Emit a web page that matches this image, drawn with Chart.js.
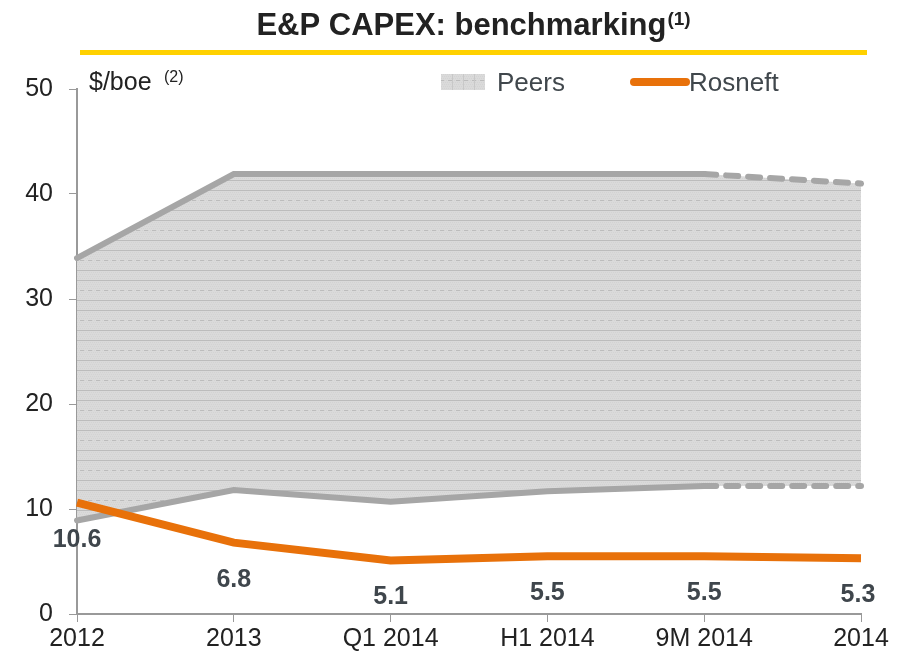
<!DOCTYPE html>
<html>
<head>
<meta charset="utf-8">
<script src="https://cdn.jsdelivr.net/npm/chart.js@4.4.1/dist/chart.umd.min.js"></script>
<style>
  html, body { margin: 0; padding: 0; background: #fff; }
  #wrap { width: 903px; height: 660px; position: relative; }
</style>
</head>
<body>
<div id="wrap"><canvas id="capex" width="903" height="660"></canvas></div>
<script>
const periods = ['2012', '2013', 'Q1 2014', 'H1 2014', '9M 2014', '2014'];
const peersHigh = [33.9, 41.9, 41.9, 41.9, 41.9, 41.0];
const peersLow = [8.9, 11.8, 10.7, 11.7, 12.2, 12.2];
const rosneft = [10.6, 6.8, 5.1, 5.5, 5.5, 5.3];
const rosneftLabels = ['10.6', '6.8', '5.1', '5.5', '5.5', '5.3'];

const FONT = '"Liberation Sans", Arial, sans-serif';
const GREY = '#a6a6a6';
const ORANGE = '#e8710a';

// hatched grey fill for the peers range
function makeHatch() {
    let c = document.createElement('canvas');
    c.width = 8;
    c.height = 30;
    let g = c.getContext('2d');
    g.fillStyle = '#dadada';
    g.fillRect(0, 0, 8, 30);
    g.fillStyle = '#d3d3d3';
    for (let y = 0; y < 30; y += 2) {
        for (let x = (y / 2) % 2; x < 8; x += 2) g.fillRect(x, y, 1, 1);
    }
    g.fillStyle = '#bcbcbc';
    g.fillRect(0, 0, 8, 1);
    g.fillRect(0, 10, 8, 1);
    g.fillRect(0, 20, 4, 1);
    return g.createPattern(c, 'repeat');
}
const hatch = makeHatch();

const decorations = {
    id: 'decorations',
    afterDraw(chart) {
        const ctx = chart.ctx;
        ctx.save();
        // title
        ctx.fillStyle = '#222';
        ctx.textBaseline = 'alphabetic';
        const t = 'E&P CAPEX: benchmarking';
        ctx.font = 'bold 31px ' + FONT;
        const tw = ctx.measureText(t).width;
        ctx.font = 'bold 19px ' + FONT;
        const sw = ctx.measureText('(1)').width;
        const tx = 473 - (tw + sw) / 2;
        ctx.font = 'bold 31px ' + FONT;
        ctx.textAlign = 'left';
        ctx.fillText(t, tx, 35);
        ctx.font = 'bold 19px ' + FONT;
        ctx.fillText('(1)', tx + tw + 1, 25);

        // yellow rule
        ctx.fillStyle = '#ffd100';
        ctx.fillRect(80, 50, 787, 5);

        // unit
        ctx.fillStyle = '#222';
        ctx.font = '25px ' + FONT;
        ctx.fillText('$/boe', 89, 90);
        ctx.font = '16px ' + FONT;
        ctx.fillText('(2)', 164, 82);

        // legend
        ctx.fillStyle = hatch;
        ctx.fillRect(441, 74, 44, 16);
        ctx.strokeStyle = '#c8c8c8';
        ctx.lineWidth = 1;
        for (let x = 452.5; x < 485; x += 11) {
            ctx.beginPath(); ctx.moveTo(x, 74); ctx.lineTo(x, 90); ctx.stroke();
        }
        ctx.fillStyle = '#40474c';
        ctx.font = '26px ' + FONT;
        ctx.fillText('Peers', 497, 91);
        ctx.strokeStyle = ORANGE;
        ctx.lineWidth = 8;
        ctx.lineCap = 'round';
        ctx.beginPath(); ctx.moveTo(634, 82); ctx.lineTo(686, 82); ctx.stroke();
        ctx.fillText('Rosneft', 689, 91);

        // value labels under the Rosneft line
        const meta = chart.getDatasetMeta(4);
        ctx.font = 'bold 25px ' + FONT;
        ctx.fillStyle = '#3f464c';
        ctx.textAlign = 'center';
        meta.data.forEach((pt, i) => {
            let x = pt.x;
            if (i === periods.length - 1) x -= 3;
            ctx.fillText(rosneftLabels[i], x, pt.y + 44);
        });
        ctx.restore();
    }
};

const dashLast = ctx => ctx.p0DataIndex === periods.length - 2 ? [12, 10] : undefined;

let chart = new Chart(document.getElementById('capex').getContext('2d'), {
    type: 'line',
    data: {
        labels: periods,
        datasets: [
            // band fill only (no border so no segment seams)
            {
                label: 'Peers band',
                data: peersHigh,
                borderWidth: 0,
                borderColor: 'rgba(0,0,0,0)',
                backgroundColor: hatch,
                fill: '+1',
                pointRadius: 0,
                tension: 0,
                order: 5
            },
            {
                label: 'Peers band low',
                data: peersLow,
                borderWidth: 0,
                borderColor: 'rgba(0,0,0,0)',
                fill: false,
                pointRadius: 0,
                tension: 0,
                order: 5
            },
            {
                label: 'Peers high',
                data: peersHigh,
                borderColor: GREY,
                borderWidth: 6,
                fill: false,
                pointRadius: 0,
                tension: 0,
                borderCapStyle: 'round',
                segment: { borderDash: dashLast },
                order: 3
            },
            {
                label: 'Peers low',
                data: peersLow,
                borderColor: GREY,
                borderWidth: 6,
                fill: false,
                pointRadius: 0,
                tension: 0,
                borderCapStyle: 'round',
                segment: { borderDash: dashLast },
                order: 2
            },
            {
                label: 'Rosneft',
                data: rosneft,
                borderColor: ORANGE,
                borderWidth: 8,
                fill: false,
                pointRadius: 0,
                tension: 0,
                order: 1
            }
        ]
    },
    options: {
        responsive: false,
        animation: false,
        layout: { padding: { top: 89, right: 42, left: 0, bottom: 0 } },
        plugins: {
            legend: { display: false },
            tooltip: { enabled: false }
        },
        scales: {
            x: {
                offset: false,
                afterFit: s => { s.height = 46; },
                grid: { drawOnChartArea: false, drawTicks: true, tickLength: 8, color: '#999' },
                border: { color: '#999', width: 2 },
                ticks: { color: '#222', font: { family: FONT, size: 25 }, padding: 2, maxRotation: 0, autoSkip: false }
            },
            y: {
                min: 0,
                max: 50,
                afterFit: s => { s.width = 77; },
                grid: { drawOnChartArea: false, drawTicks: true, tickLength: 8, color: '#999' },
                border: { color: '#999', width: 2 },
                ticks: { stepSize: 10, color: '#222', font: { family: FONT, size: 25 }, padding: 16 }
            }
        }
    },
    plugins: [decorations]
});
</script>
</body>
</html>
